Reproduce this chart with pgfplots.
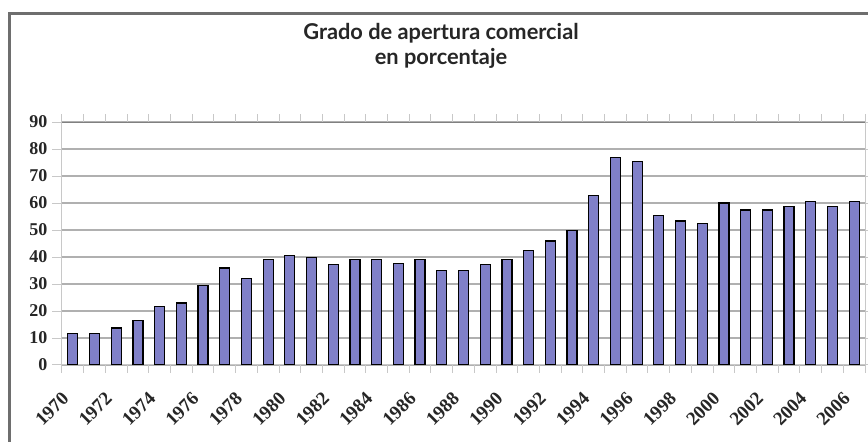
\documentclass[border=0pt]{standalone}
\usepackage{fontspec}
\setmainfont{Liberation Serif}
\newfontfamily\titlefont{Lato}
\usepackage{pgfplots}
\pgfplotsset{compat=1.18}
\definecolor{barfill}{RGB}{128,128,200}
\definecolor{gridc}{RGB}{176,176,176}
\definecolor{tickc}{RGB}{200,200,200}
\definecolor{framec}{RGB}{110,110,110}
\begin{document}
\begin{tikzpicture}
\useasboundingbox (0,0) rectangle (868pt,442pt);
\fill[white] (0,0) rectangle (868pt,442pt);
\draw[framec, line width=2.5pt] (9.5pt,-20pt) -- (9.5pt,428.5pt) -- (890pt,428.5pt);
\node[anchor=base, font=\titlefont\bfseries\fontsize{21.8}{22}\selectfont, text=black!85] at (441pt,402pt) {Grado de apertura comercial};
\node[anchor=base, font=\titlefont\bfseries\fontsize{21.8}{22}\selectfont, text=black!85] at (441pt,377pt) {en porcentaje};
\begin{axis}[
  at={(62pt,77pt)}, anchor=south west, scale only axis,
  width=803pt, height=243pt,
  ybar, bar width=10pt, bar shift=0pt,
  xmin=1969.5, xmax=2006.5, ymin=0, ymax=90,
  ytick={0,10,...,90},
  xtick={1970,1972,...,2006},
  xticklabels={1970,1972,1974,1976,1978,1980,1982,1984,1986,1988,1990,1992,1994,1996,1998,2000,2002,2004,2006},
  minor xtick={1969.5,1970.5,...,2006.5},
  ymajorgrids, grid style={gridc, line width=1.3pt},
  tick align=outside, major tick length=10pt, minor tick length=8pt,
  tick style={tickc, line width=1pt},
  every major x tick/.append style={draw=none},
  axis line style={tickc, line width=1pt},
  /pgf/number format/assume math mode=true,
  yticklabel style={font=\fontsize{18}{18}\selectfont\bfseries, text=black!85, xshift=-1pt},
  xticklabel style={xshift=-12pt, yshift=-11pt, rotate=45, anchor=north east, font=\fontsize{19}{19}\selectfont\bfseries, text=black!85},
]
\addplot[fill=barfill, draw=black, line width=1.2pt] coordinates {
(1970,11.7) (1971,11.7) (1972,13.7) (1973,16.4) (1974,21.8) (1975,23.0)
(1976,29.3) (1977,35.9) (1978,31.9) (1979,39.1) (1980,40.5) (1981,39.9)
(1982,37.2) (1983,39.1) (1984,39.2) (1985,37.7) (1986,39.2) (1987,35.1)
(1988,35.1) (1989,37.2) (1990,39.2) (1991,42.5) (1992,45.9) (1993,49.8)
(1994,62.7) (1995,76.8) (1996,75.5) (1997,55.3) (1998,53.3) (1999,52.5)
(2000,60.0) (2001,57.4) (2002,57.4) (2003,58.6) (2004,60.7) (2005,58.6)
(2006,60.7)
};
\draw[gray, line width=1.5pt] (rel axis cs:0,1) -- (rel axis cs:1,1);
\end{axis}
\end{tikzpicture}
\end{document}
